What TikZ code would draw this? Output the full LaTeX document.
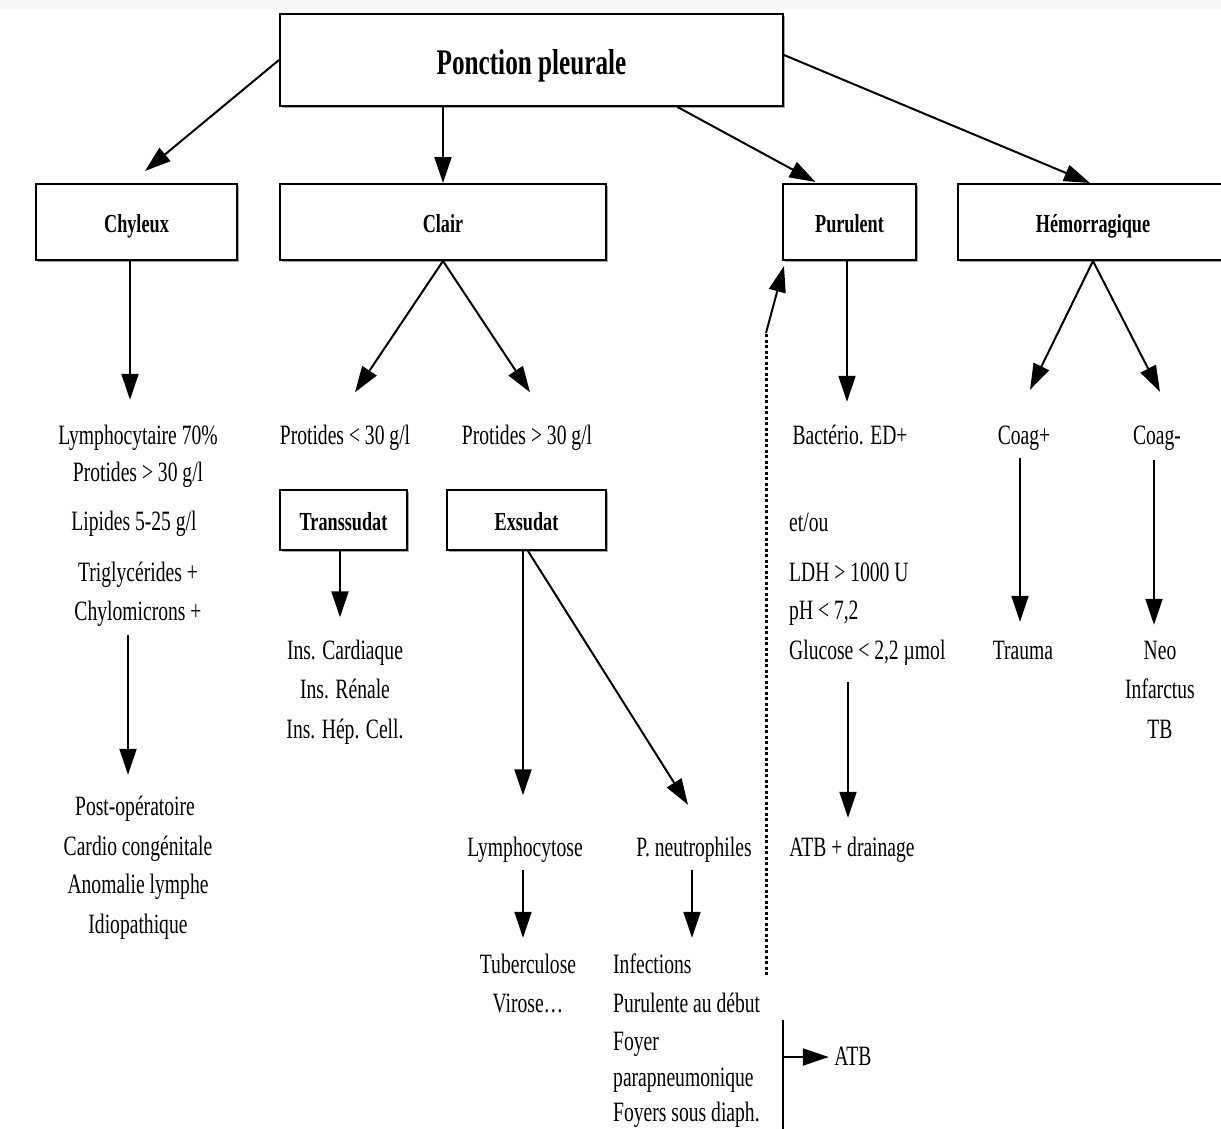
\documentclass[tikz,border=0pt]{standalone}
\usepackage{fontspec}
\setmainfont{Liberation Serif}[FakeStretch=0.7]
\usetikzlibrary{arrows.meta,shadows}

\begin{document}
\begin{tikzpicture}[
    x=1pt, y=-1pt,
    box/.style={draw, line width=2pt, fill=white, inner sep=0pt,
        drop shadow={shadow xshift=1.5pt, shadow yshift=-1.5pt, opacity=0.35, fill=black}},
    lbl/.style={font=\fontsize{26}{30}\selectfont\bfseries, text height=20pt, text depth=0pt},
    txt/.style={font=\fontsize{28}{34}\selectfont, inner sep=2pt, text height=21pt, text depth=4pt},
    arr/.style={-{Triangle[length=26pt,width=17pt]}, line width=2pt},
]
\useasboundingbox (0,0) rectangle (1221,1128);
\fill[gray!7] (0,0) rectangle (1221,9);

% boxes
\node[
    box,
    minimum width=503pt,
    minimum height=92pt,
    text height=28pt,
    text depth=0pt,
    font=\fontsize{36}{40}\selectfont\bfseries
] (main) at (531.5,60) {Ponction pleurale};

\node[box, lbl, minimum width=201pt, minimum height=76pt] (chyleux) at (136.5,222) {Chyleux};
\node[box, lbl, minimum width=326pt, minimum height=76pt] (clair) at (443,222) {Clair};
\node[box, lbl, minimum width=133pt, minimum height=76pt] (purulent) at (849.5,222) {Purulent};
\node[box, lbl, minimum width=270pt, minimum height=76pt] (hemo) at (1093,222) {Hémorragique};
\node[box, lbl, minimum width=127pt, minimum height=60pt] (transsudat) at (343.5,520) {Transsudat};
\node[box, lbl, minimum width=159pt, minimum height=60pt] (exsudat) at (526.5,520) {Exsudat};

% chyleux
\node[txt] (lympho70) at (138,436) {Lymphocytaire 70\%};
\node[txt] (chyprot) at (138,473) {Protides > 30 g/l};
\node[txt] (lipides) at (134,522) {Lipides 5-25 g/l};
\node[txt] (trigly) at (138,573) {Triglycérides +};
\node[txt] (chylo) at (138,612) {Chylomicrons +};
\node[txt] (postop) at (135,807) {Post-opératoire};
\node[txt] (cardio) at (138,847) {Cardio congénitale};
\node[txt] (anomalie) at (138,885) {Anomalie lymphe};
\node[txt] (idio) at (138,925) {Idiopathique};

% clair
\node[txt] (p30a) at (345,436) {Protides < 30 g/l};
\node[txt] (p30b) at (527,436) {Protides > 30 g/l};
\node[txt] (insc) at (345,651) {Ins. Cardiaque};
\node[txt] (insr) at (345,690) {Ins. Rénale};
\node[txt] (insh) at (345,730) {Ins. Hép. Cell.};
\node[txt] (lymphocytose) at (525,848) {Lymphocytose};
\node[txt] (pneutro) at (694,848) {P. neutrophiles};
\node[txt] (tuberc) at (528,965) {Tuberculose};
\node[txt] (virose) at (528,1004) {Virose…};
\node[txt, anchor=west] (infections) at (611,965) {Infections};
\node[txt, anchor=west] (purulente) at (611,1004) {Purulente au début};
\node[txt, anchor=west] (foyer) at (611,1042) {Foyer};
\node[txt, anchor=west] (parapneu) at (611,1078) {parapneumonique};
\node[txt, anchor=west] (foyers) at (611,1113) {Foyers sous diaph.};
\node[txt] (atb) at (853,1057) {ATB};

% purulent
\node[txt] (bacterio) at (850,436) {Bactério. ED+};
\node[txt, anchor=west] (etou) at (787,523) {et/ou};
\node[txt, anchor=west] (ldh) at (787,573) {LDH > 1000 U};
\node[txt, anchor=west] (ph) at (787,611) {pH < 7,2};
\node[txt, anchor=west] (glucose) at (787,651) {Glucose < 2,2 µmol};
\node[txt] (atbd) at (852,848) {ATB + drainage};

% hemorragique
\node[txt] (coagp) at (1024,436) {Coag+};
\node[txt] (coagm) at (1157,436) {Coag-};
\node[txt] (trauma) at (1023,651) {Trauma};
\node[txt] (neo) at (1160,651) {Neo};
\node[txt] (infarctus) at (1160,690) {Infarctus};
\node[txt] (tb) at (1160,730) {TB};

% arrows
\draw[arr] (main.west) -- ([xshift=8.5pt,yshift=12pt]chyleux.north);
\draw[arr] (main.south -| clair.north) -- (clair.north);
\draw[arr] ([xshift=146pt]main.south) -- ([xshift=-34pt,yshift=1pt]purulent.north);
\draw[arr] ([yshift=5pt]main.east) -- ([xshift=-3pt]hemo.north);

\draw[arr, shorten >=21.5pt] ([xshift=-6.5pt]chyleux.south) -- ([xshift=-6.5pt]chyleux.south |- lympho70.north);
\draw[arr, shorten <=8.5pt, shorten >=17.5pt] ([xshift=-10pt]chylo.south) -- ([xshift=-10pt]chylo.south |- postop.north);

\draw[arr] (clair.south) -- ([xshift=10pt,yshift=29pt]p30a.north);
\draw[arr] (clair.south) -- ([xshift=3pt,yshift=29pt]p30b.north);
\draw[arr, shorten >=19pt] ([xshift=-3.5pt]transsudat.south) -- ([xshift=-3.5pt]transsudat.south |- insc.north);
\draw[arr, shorten >=38pt] ([xshift=-3.5pt]exsudat.south) -- ([xshift=-3.5pt]exsudat.south |- lymphocytose.north);
\draw[arr] ([xshift=1.5pt]exsudat.south) -- ([xshift=-6pt,yshift=28.5pt]pneutro.north);
\draw[arr, shorten <=7.5pt, shorten >=12.5pt] ([xshift=-2pt]lymphocytose.south) -- ([xshift=-2pt]lymphocytose.south |- tuberc.north);
\draw[arr, shorten <=7.5pt, shorten >=12.5pt] ([xshift=-2pt]pneutro.south) -- ([xshift=-2pt]pneutro.south |- infections.north);

\draw[arr, shorten >=19.5pt] ([xshift=-2.5pt]purulent.south) -- ([xshift=-2.5pt]purulent.south |- bacterio.north);
\draw[arr, shorten <=16.5pt, shorten >=15.5pt] ([xshift=-4pt]atbd.north |- glucose.south) -- ([xshift=-4pt]atbd.north);

\draw[arr] (hemo.south) -- ([xshift=6pt,yshift=31.5pt]coagp.north);
\draw[arr] (hemo.south) -- ([xshift=3pt,yshift=29.5pt]coagm.north);
\draw[arr, shorten <=7.5pt, shorten >=14.5pt] ([xshift=-4pt]coagp.south) -- ([xshift=-4pt]coagp.south |- trauma.north);
\draw[arr, shorten <=9.5pt, shorten >=11.5pt] ([xshift=-3pt]coagm.south) -- ([xshift=-3pt]coagm.south |- neo.north);

% dotted return to purulent
\coordinate (dotlow) at (766,975);
\coordinate (dotbend) at (766,333);
\draw[line width=3pt, dash pattern=on 3pt off 2.5pt] (dotlow) -- (dotbend);
\draw[arr] (dotbend) -- ([xshift=2pt,yshift=-5pt]purulent.south west);

% bracket to ATB
\coordinate (brtop) at (783,1020);
\coordinate (brbot) at (783,1130);
\draw[line width=2pt] (brtop) -- (brbot);
\draw[arr, shorten >=3.5pt] (brtop |- atb.west) -- (atb.west);
\end{tikzpicture}
\end{document}
